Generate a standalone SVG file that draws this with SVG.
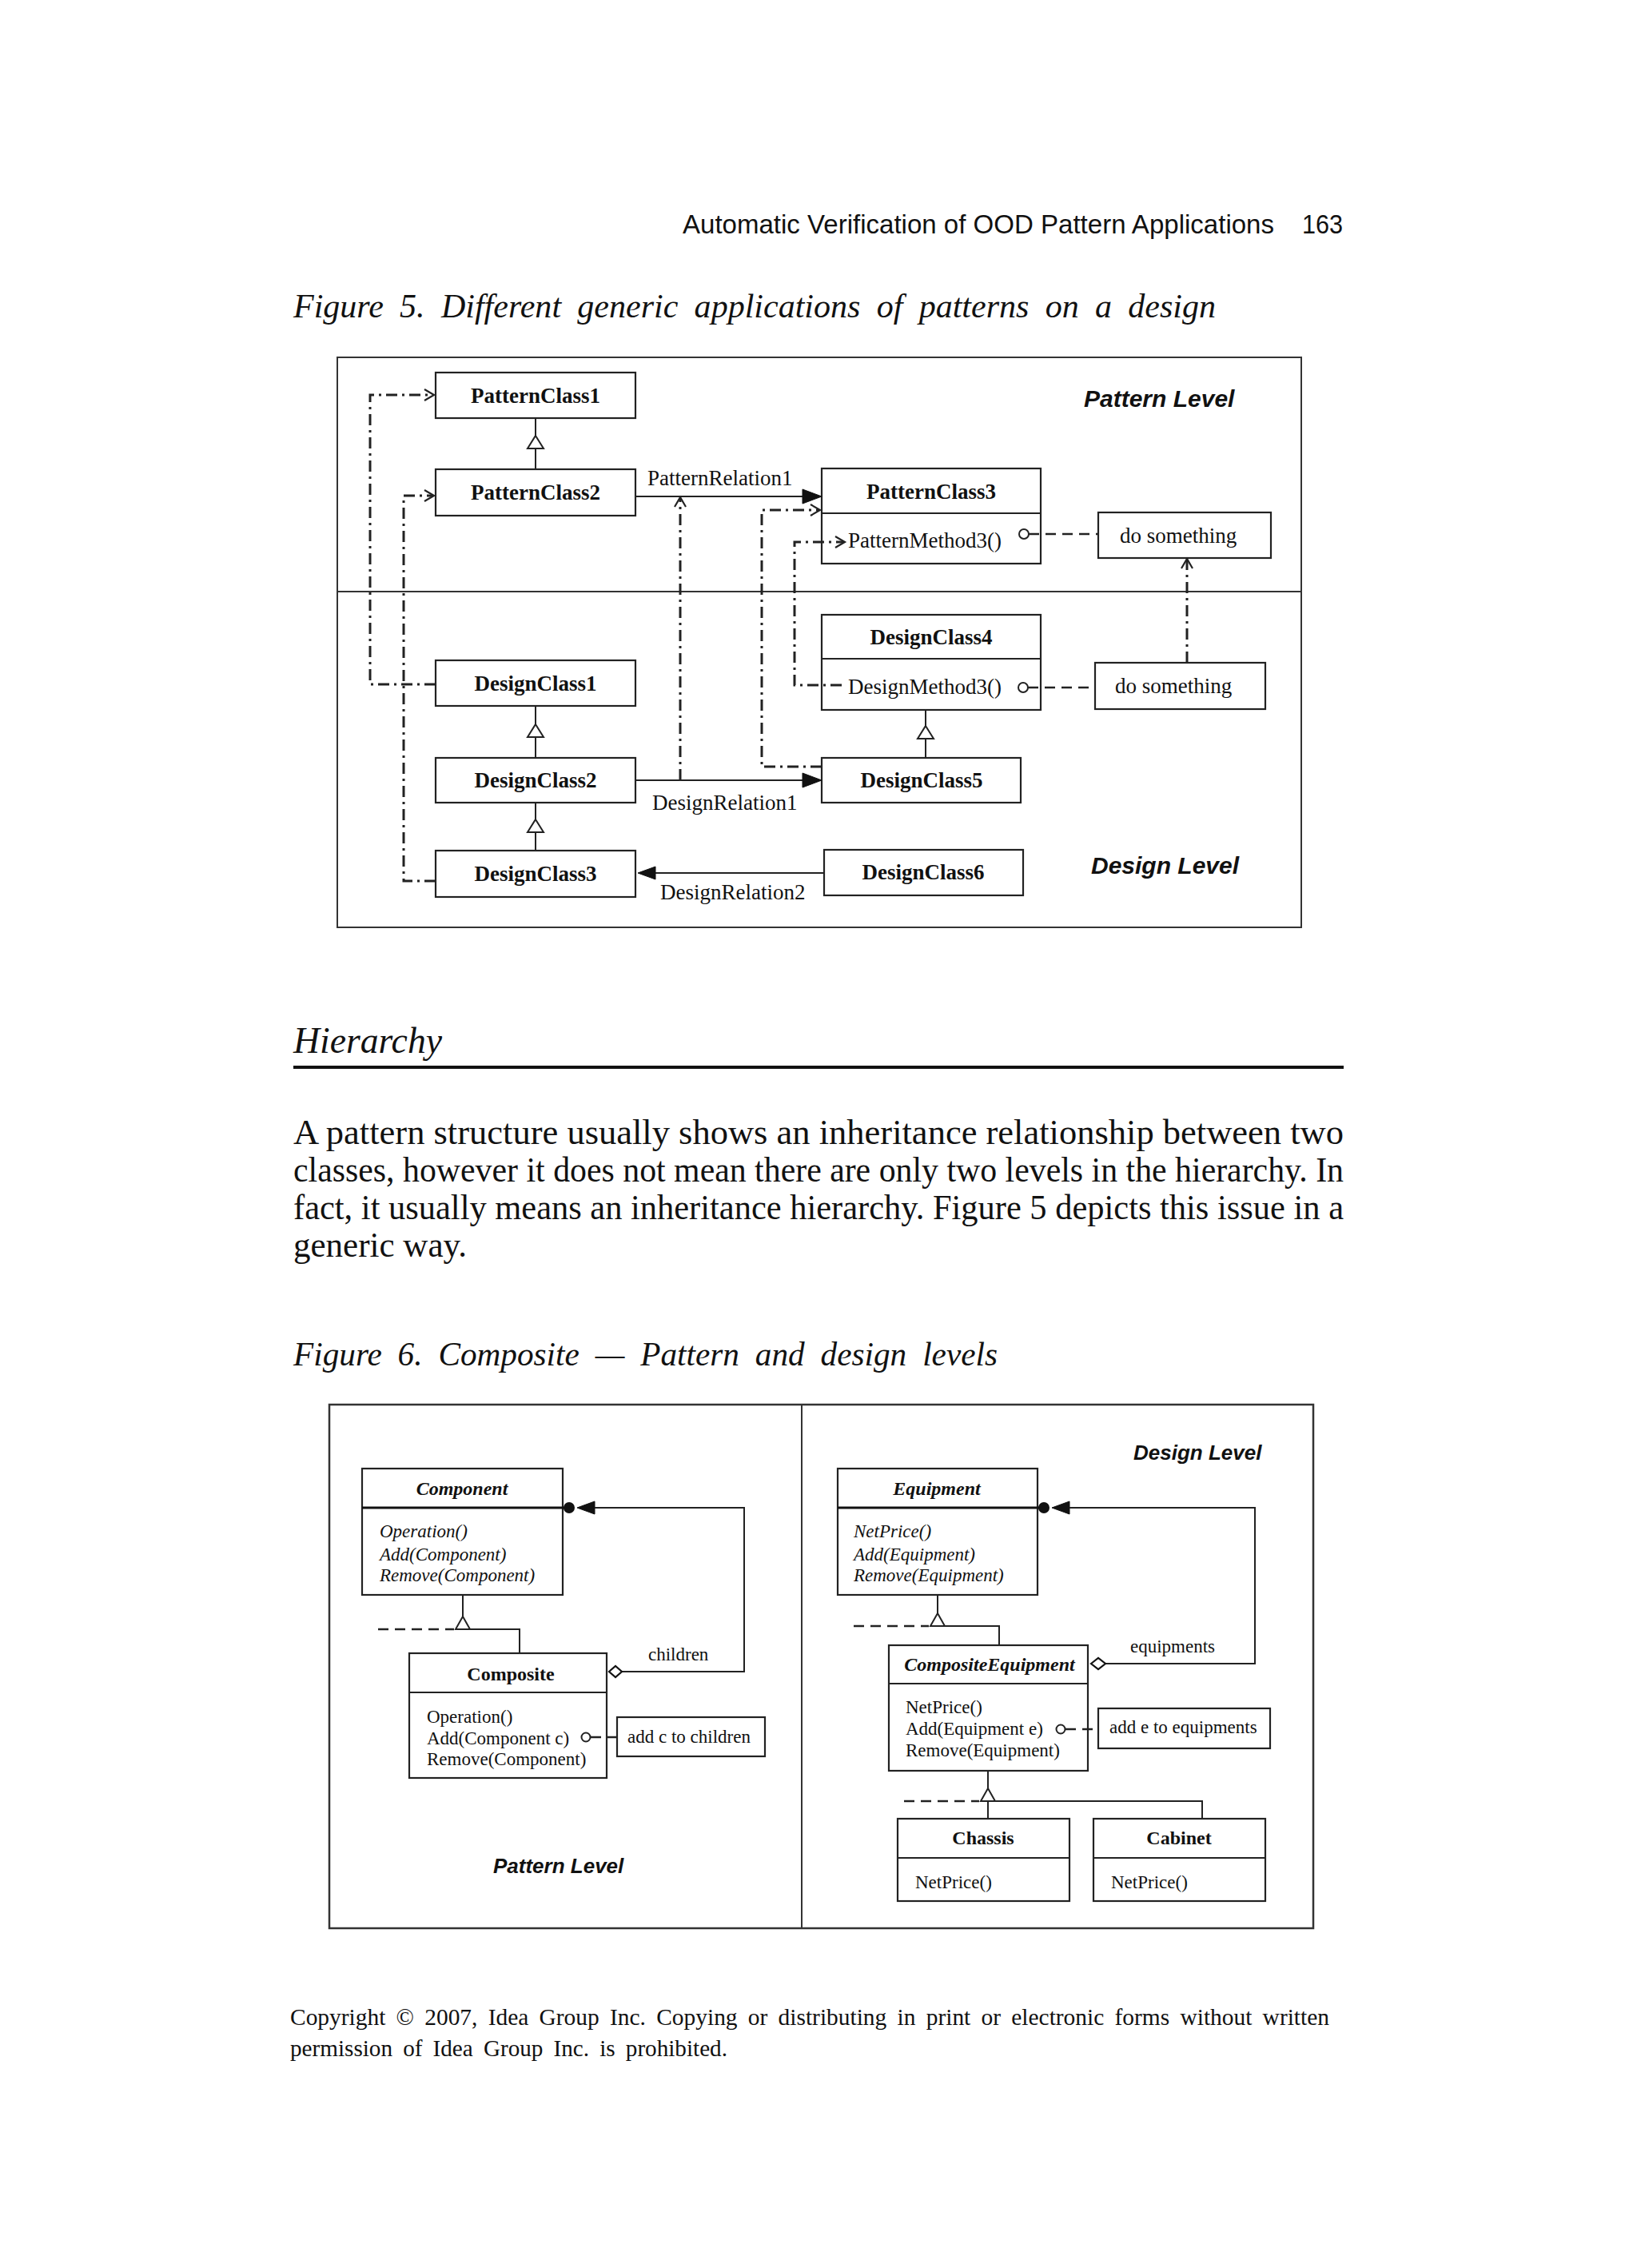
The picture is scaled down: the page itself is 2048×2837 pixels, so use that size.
<svg xmlns="http://www.w3.org/2000/svg" width="2048" height="2837" viewBox="0 0 2048 2837">
<style>
.ln{fill:none;stroke:#222;stroke-width:2}
.box{fill:#fff;stroke:#222;stroke-width:2.2}
.dd{fill:none;stroke:#222;stroke-width:3;stroke-dasharray:14 6 3 6}
.dsh{fill:none;stroke:#222;stroke-width:2.6;stroke-dasharray:13 8}
.oa{fill:none;stroke:#222;stroke-width:2.2}
.fa{fill:#111;stroke:#111;stroke-width:1}
.tri{fill:#fff;stroke:#222;stroke-width:2}
.serif{font-family:"Liberation Serif","Times New Roman",serif;fill:#111}
.sans{font-family:"Liberation Sans",Arial,sans-serif;fill:#111}
.cls{font-family:"Liberation Serif","Times New Roman",serif;font-weight:bold;font-size:27px;fill:#111;text-anchor:middle}
.f5{font-family:"Liberation Serif","Times New Roman",serif;font-size:27px;fill:#111}
.lvl{font-family:"Liberation Sans",Arial,sans-serif;font-weight:bold;font-style:italic;fill:#111}
.c6t{font-family:"Liberation Serif","Times New Roman",serif;font-weight:bold;font-size:24px;fill:#111;text-anchor:middle}
.c6i{font-family:"Liberation Serif","Times New Roman",serif;font-style:italic;font-size:23px;fill:#111}
.c6{font-family:"Liberation Serif","Times New Roman",serif;font-size:23px;fill:#111}
</style>
<defs>
<path id="tri" d="M0,0 L10,16 L-10,16 Z"/>
<path id="oaR" d="M-12,-7 L0,0 L-12,7"/>
<path id="oaU" d="M-7,12 L0,0 L7,12"/>
<path id="faR" d="M0,0 L-24,-9 L-24,9 Z"/>
<path id="faL" d="M0,0 L22,-8 L22,8 Z"/>
</defs>
<rect x="0" y="0" width="2048" height="2837" fill="#fff"/>

<!-- page header -->
<g id="header">
<text class="sans" x="854" y="292" font-size="34" textLength="740" lengthAdjust="spacingAndGlyphs">Automatic Verification of OOD Pattern Applications</text>
<text class="sans" x="1629" y="292" font-size="34" textLength="51" lengthAdjust="spacingAndGlyphs">163</text>
</g>

<text id="fig5-caption" class="serif" x="367" y="397" font-size="43" font-style="italic" textLength="1154" lengthAdjust="spacingAndGlyphs" word-spacing="10">Figure 5. Different generic applications of patterns on a design</text>

<!-- Figure 5 -->
<g id="fig5">
<rect id="fig5-frame" x="422" y="447" width="1206" height="713" fill="none" stroke="#333" stroke-width="2"/>
<line x1="422" y1="740" x2="1628" y2="740" stroke="#333" stroke-width="2"/>

<g id="PatternClass1"><rect class="box" x="545" y="466" width="250" height="57"/><text class="cls" x="670" y="504">PatternClass1</text></g>
<g id="PatternClass2"><rect class="box" x="545" y="587" width="250" height="58"/><text class="cls" x="670" y="625">PatternClass2</text></g>
<g id="PatternClass3"><rect class="box" x="1028" y="586" width="274" height="119"/><line class="ln" x1="1028" y1="642" x2="1302" y2="642"/><text class="cls" x="1165" y="624">PatternClass3</text><text class="f5" x="1061" y="685">PatternMethod3()</text></g>
<g id="note-pattern"><rect class="box" x="1374" y="641" width="216" height="57"/><text class="f5" x="1401" y="679">do something</text></g>
<g id="DesignClass4"><rect class="box" x="1028" y="769" width="274" height="119"/><line class="ln" x1="1028" y1="824" x2="1302" y2="824"/><text class="cls" x="1165" y="806">DesignClass4</text><text class="f5" x="1061" y="868">DesignMethod3()</text></g>
<g id="note-design"><rect class="box" x="1370" y="829" width="213" height="58"/><text class="f5" x="1395" y="867">do something</text></g>
<g id="DesignClass1"><rect class="box" x="545" y="826" width="250" height="57"/><text class="cls" x="670" y="864">DesignClass1</text></g>
<g id="DesignClass2"><rect class="box" x="545" y="948" width="250" height="56"/><text class="cls" x="670" y="985">DesignClass2</text></g>
<g id="DesignClass3"><rect class="box" x="545" y="1064" width="250" height="58"/><text class="cls" x="670" y="1102">DesignClass3</text></g>
<g id="DesignClass5"><rect class="box" x="1028" y="948" width="249" height="56"/><text class="cls" x="1153" y="985">DesignClass5</text></g>
<g id="DesignClass6"><rect class="box" x="1031" y="1063" width="249" height="57"/><text class="cls" x="1155" y="1100">DesignClass6</text></g>

<text class="lvl" x="1356" y="509" font-size="30">Pattern Level</text>
<text class="lvl" x="1365" y="1093" font-size="30">Design Level</text>

<g id="fig5-connectors">
<!-- inheritance -->
<line class="ln" x1="670" y1="523" x2="670" y2="545"/><use href="#tri" class="tri" x="670" y="545"/><line class="ln" x1="670" y1="561" x2="670" y2="587"/>
<line class="ln" x1="670" y1="883" x2="670" y2="906"/><use href="#tri" class="tri" x="670" y="906"/><line class="ln" x1="670" y1="922" x2="670" y2="948"/>
<line class="ln" x1="670" y1="1004" x2="670" y2="1025"/><use href="#tri" class="tri" x="670" y="1025"/><line class="ln" x1="670" y1="1041" x2="670" y2="1064"/>
<line class="ln" x1="1158" y1="888" x2="1158" y2="908"/><use href="#tri" class="tri" x="1158" y="908"/><line class="ln" x1="1158" y1="924" x2="1158" y2="948"/>
<!-- relations -->
<line class="ln" x1="795" y1="621" x2="1006" y2="621"/><use href="#faR" class="fa" x="1028" y="621"/>
<text class="f5" x="810" y="607" font-size="26">PatternRelation1</text>
<line class="ln" x1="795" y1="976" x2="1006" y2="976"/><use href="#faR" class="fa" x="1028" y="976"/>
<text class="f5" x="816" y="1013" font-size="26">DesignRelation1</text>
<line class="ln" x1="1031" y1="1092" x2="820" y2="1092"/><use href="#faL" class="fa" x="798" y="1092"/>
<text class="f5" x="826" y="1125" font-size="26">DesignRelation2</text>
<!-- dash-dot mappings -->
<path class="dd" d="M545,856 H463 V494 H542"/><use href="#oaR" class="oa" x="543" y="494"/>
<path class="dd" d="M545,1102 H505 V620 H542"/><use href="#oaR" class="oa" x="543" y="620"/>
<path class="dd" d="M851,976 V623"/><use href="#oaU" class="oa" x="851" y="622"/>
<path class="dd" d="M1028,959 H953 V638 H1025"/><use href="#oaR" class="oa" x="1026" y="638"/>
<path class="dd" d="M1053,857 H994 V678 H1056"/><use href="#oaR" class="oa" x="1057" y="678"/>
<path class="dd" d="M1485,829 V700"/><use href="#oaU" class="oa" x="1485" y="699"/>
<!-- method notes -->
<circle cx="1281" cy="668" r="6" fill="#fff" stroke="#222" stroke-width="2"/>
<line class="dsh" x1="1287" y1="668" x2="1374" y2="668"/>
<circle cx="1280" cy="860" r="6" fill="#fff" stroke="#222" stroke-width="2"/>
<line class="dsh" x1="1286" y1="860" x2="1370" y2="860"/>
</g>
</g>

<!-- Hierarchy section -->
<g id="section">
<text class="serif" x="367" y="1317" font-size="46" font-style="italic" textLength="186" lengthAdjust="spacingAndGlyphs">Hierarchy</text>
<line x1="367" y1="1335" x2="1681" y2="1335" stroke="#111" stroke-width="4"/>
<text class="serif" x="367" y="1431" font-size="44" textLength="1314" lengthAdjust="spacingAndGlyphs">A pattern structure usually shows an inheritance relationship between two</text>
<text class="serif" x="367" y="1478" font-size="44" textLength="1314" lengthAdjust="spacingAndGlyphs">classes, however it does not mean there are only two levels in the hierarchy. In</text>
<text class="serif" x="367" y="1525" font-size="44" textLength="1314" lengthAdjust="spacingAndGlyphs">fact, it usually means an inheritance hierarchy. Figure 5 depicts this issue in a</text>
<text class="serif" x="367" y="1572" font-size="44" textLength="217" lengthAdjust="spacingAndGlyphs">generic way.</text>
</g>

<text id="fig6-caption" class="serif" x="367" y="1708" font-size="43" font-style="italic" textLength="881" lengthAdjust="spacingAndGlyphs" word-spacing="10">Figure 6. Composite — Pattern and design levels</text>

<!-- Figure 6 -->
<g id="fig6">
<rect x="412" y="1757" width="1231" height="655" fill="none" stroke="#333" stroke-width="2.5"/>
<line x1="1003" y1="1757" x2="1003" y2="2412" stroke="#333" stroke-width="2"/>

<g id="Component"><rect class="box" x="453" y="1837" width="251" height="158"/><line x1="453" y1="1886" x2="706" y2="1886" stroke="#111" stroke-width="3"/><text class="c6t" x="578" y="1870" font-style="italic">Component</text><text class="c6i" x="475" y="1923">Operation()</text><text class="c6i" x="475" y="1952">Add(Component)</text><text class="c6i" x="475" y="1978">Remove(Component)</text></g>
<g id="Composite"><rect class="box" x="512" y="2068" width="247" height="156"/><line class="ln" x1="512" y1="2117" x2="759" y2="2117"/><text class="c6t" x="639" y="2102">Composite</text><text class="c6" x="534" y="2155">Operation()</text><text class="c6" x="534" y="2182">Add(Component c)</text><text class="c6" x="534" y="2208">Remove(Component)</text></g>
<g id="note-children"><rect class="box" x="772" y="2148" width="185" height="49"/><text class="c6" x="785" y="2180">add c to children</text></g>
<text class="lvl" x="617" y="2343" font-size="26">Pattern Level</text>

<text class="lvl" x="1418" y="1826" font-size="26">Design Level</text>
<g id="Equipment"><rect class="box" x="1048" y="1837" width="250" height="158"/><line x1="1048" y1="1886" x2="1300" y2="1886" stroke="#111" stroke-width="3"/><text class="c6t" x="1172" y="1870" font-style="italic">Equipment</text><text class="c6i" x="1068" y="1923">NetPrice()</text><text class="c6i" x="1068" y="1952">Add(Equipment)</text><text class="c6i" x="1068" y="1978">Remove(Equipment)</text></g>
<g id="CompositeEquipment"><rect class="box" x="1112" y="2058" width="249" height="157"/><line class="ln" x1="1112" y1="2106" x2="1361" y2="2106"/><text class="c6t" x="1238" y="2090" font-style="italic" font-size="23">CompositeEquipment</text><text class="c6" x="1133" y="2143">NetPrice()</text><text class="c6" x="1133" y="2170">Add(Equipment e)</text><text class="c6" x="1133" y="2197">Remove(Equipment)</text></g>
<g id="note-equipments"><rect class="box" x="1374" y="2137" width="215" height="50"/><text class="c6" x="1388" y="2168">add e to equipments</text></g>
<g id="Chassis"><rect class="box" x="1123" y="2275" width="215" height="103"/><line class="ln" x1="1123" y1="2324" x2="1338" y2="2324"/><text class="c6t" x="1230" y="2307">Chassis</text><text class="c6" x="1145" y="2362">NetPrice()</text></g>
<g id="Cabinet"><rect class="box" x="1368" y="2275" width="215" height="103"/><line class="ln" x1="1368" y1="2324" x2="1583" y2="2324"/><text class="c6t" x="1475" y="2307">Cabinet</text><text class="c6" x="1390" y="2362">NetPrice()</text></g>

<g id="fig6-connectors">
<!-- pattern side -->
<circle cx="712" cy="1886" r="7" fill="#111"/>
<use href="#faL" class="fa" x="722" y="1886"/>
<path class="ln" d="M744,1886 H931 V2091 H778"/>
<path d="M762,2091 L770,2084 L778,2091 L770,2098 Z" fill="#fff" stroke="#111" stroke-width="2.2"/>
<text class="c6" x="811" y="2077">children</text>
<line class="ln" x1="579" y1="1995" x2="579" y2="2022"/><path class="tri" d="M579,2022 L588,2038 L570,2038 Z"/>
<line class="dsh" x1="473" y1="2038" x2="568" y2="2038" stroke-width="3" stroke-dasharray="12 6"/>
<path class="ln" d="M588,2038 H650 V2068" stroke-width="2.5"/>
<circle cx="733" cy="2173" r="5.5" fill="#fff" stroke="#222" stroke-width="2"/>
<line class="dsh" x1="739" y1="2173" x2="772" y2="2173" stroke-dasharray="11 5"/>
<!-- design side -->
<circle cx="1306" cy="1886" r="7" fill="#111"/>
<use href="#faL" class="fa" x="1316" y="1886"/>
<path class="ln" d="M1338,1886 H1570 V2081 H1383"/>
<path d="M1365,2081 L1374,2074 L1383,2081 L1374,2088 Z" fill="#fff" stroke="#111" stroke-width="2.2"/>
<text class="c6" x="1414" y="2067">equipments</text>
<line class="ln" x1="1173" y1="1995" x2="1173" y2="2018"/><path class="tri" d="M1173,2018 L1182,2034 L1164,2034 Z"/>
<line class="dsh" x1="1068" y1="2034" x2="1162" y2="2034" stroke-width="3" stroke-dasharray="12 6"/>
<path class="ln" d="M1182,2034 H1250 V2058" stroke-width="2.5"/>
<circle cx="1327" cy="2163" r="5.5" fill="#fff" stroke="#222" stroke-width="2"/>
<line class="dsh" x1="1333" y1="2163" x2="1374" y2="2163" stroke-dasharray="11 5"/>
<line class="ln" x1="1236" y1="2215" x2="1236" y2="2237"/><path class="tri" d="M1236,2237 L1245,2253 L1227,2253 Z"/>
<line class="dsh" x1="1131" y1="2253" x2="1225" y2="2253" stroke-width="3" stroke-dasharray="12 6"/>
<path class="ln" d="M1245,2253 H1504 V2275" stroke-width="2.5"/>
<line class="ln" x1="1236" y1="2253" x2="1236" y2="2275" stroke-width="2.5"/>
</g>
</g>

<g id="footer">
<text class="serif" x="363" y="2533" font-size="30" textLength="1300" lengthAdjust="spacingAndGlyphs" word-spacing="6">Copyright © 2007, Idea Group Inc. Copying or distributing in print or electronic forms without written</text>
<text class="serif" x="363" y="2572" font-size="30" textLength="547" lengthAdjust="spacingAndGlyphs" word-spacing="6">permission of Idea Group Inc. is prohibited.</text>
</g>
</svg>
